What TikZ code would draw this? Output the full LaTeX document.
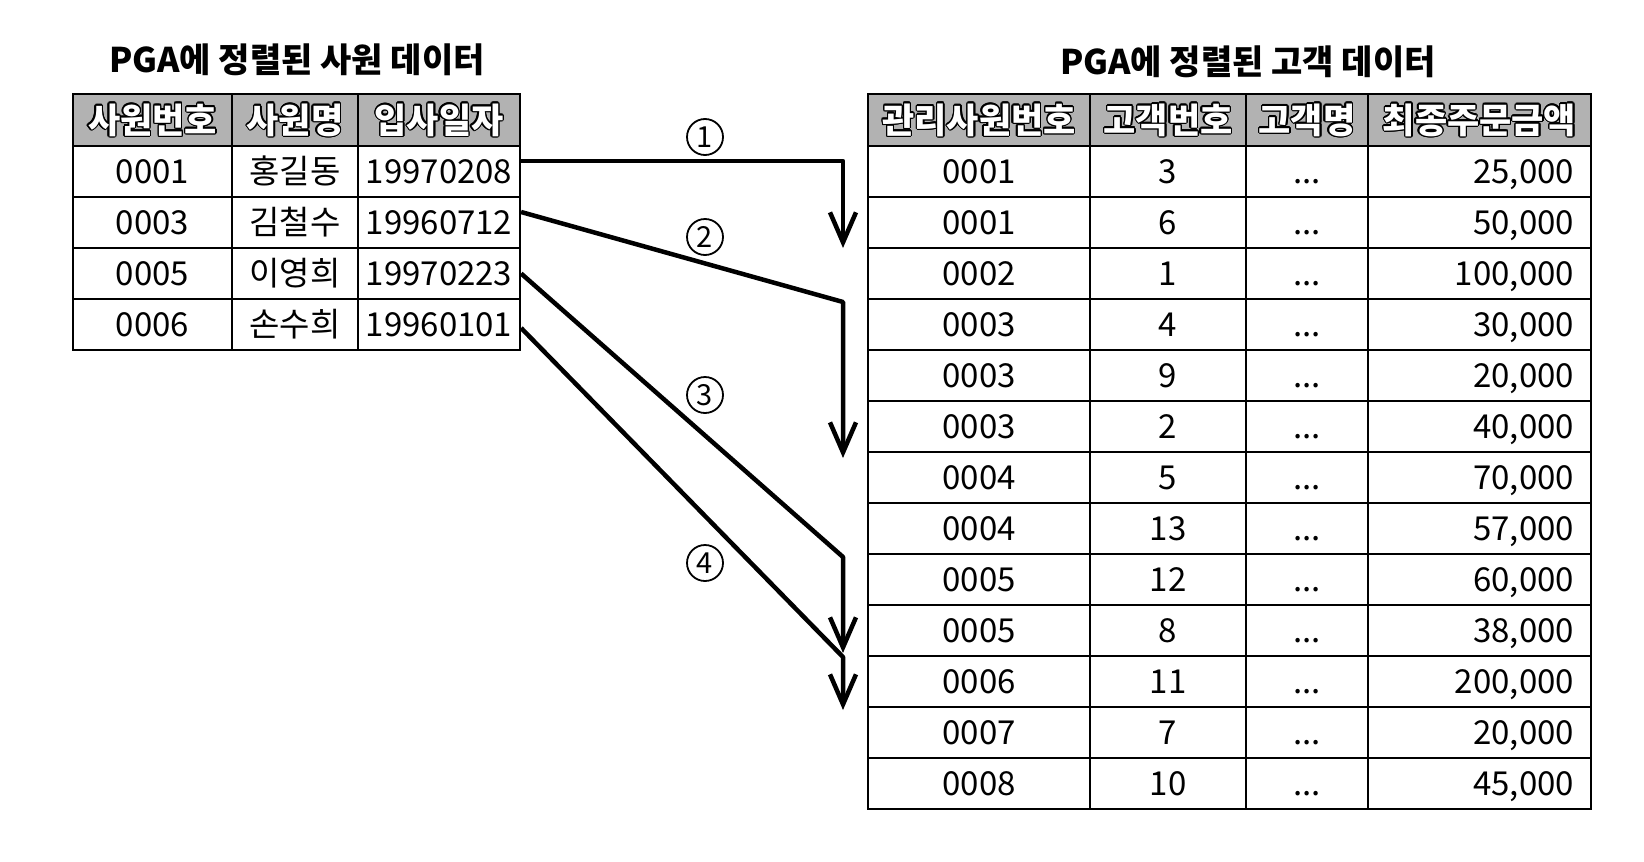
\documentclass[tikz,border=0pt]{standalone}
\usepackage{fontspec}
\setmainfont{Noto Sans CJK KR}
\usepackage[copies]{contour}
\contourlength{1.4pt}
\usetikzlibrary{arrows.meta}
\newcommand{\hdtext}[1]{\contour{black}{#1}}
\begin{document}
\begin{tikzpicture} [
   x=1pt, y=-1pt,
   cell/.style={draw, line width=2.2pt, minimum width=#1, minimum height=51pt,
                inner sep=0pt, text height=24.2pt, text depth=0pt,
                font=\fontsize{33}{33}\selectfont},
   head/.style={cell=#1, minimum height=52pt, fill=gray!60, text=white,
                text height=26pt, font=\fontsize{35}{35}\selectfont\bfseries},
   title/.style={font=\fontsize{34}{34}\selectfont\bfseries},
   num/.style={circle, draw, line width=1.8pt, minimum size=36pt, inner sep=0pt,
               font=\fontsize{29}{29}\selectfont},
   arr/.style={line width=4.5pt, line join=round,
               -{Straight Barb[length=30pt,width=26pt]}}
]
   \useasboundingbox (0,0) rectangle (1644,862);

   % titles
   \node (ltitle) [title] at (297,60) {PGA에 정렬된 사원 데이터};
   \node (rtitle) [title] at (1248,62) {PGA에 정렬된 고객 데이터};

   % employee table
   \foreach \w/\x/\t [count=\c] in {159/152.5/사원번호, 126/295/사원명, 162/439/입사일자}
      \node (LH-\c) [head=\w pt] at (\x,120) {\hdtext{\t}};
   \foreach \id/\nm/\dt [count=\r] in {0001/홍길동/19970208, 0003/김철수/19960712,
                                      0005/이영희/19970223, 0006/손수희/19960101} {
      \node (L-\r-1) [cell=159pt] at (152.5,120.5+51*\r) {\id};
      \node (L-\r-2) [cell=126pt] at (295,120.5+51*\r) {\nm};
      \node (L-\r-3) [cell=162pt] at (439,120.5+51*\r) {\dt};
   }

   % customer table
   \foreach \w/\x/\t [count=\c] in {222/979/관리사원번호, 156/1168/고객번호,
                                    122/1307/고객명, 223/1479.5/최종주문금액}
      \node (RH-\c) [head=\w pt] at (\x,120) {\hdtext{\t}};
   \foreach \id/\no/\amt [count=\r] in {0001/3/{25,000}, 0001/6/{50,000}, 0002/1/{100,000},
                                       0003/4/{30,000}, 0003/9/{20,000}, 0003/2/{40,000},
                                       0004/5/{70,000}, 0004/13/{57,000}, 0005/12/{60,000},
                                       0005/8/{38,000}, 0006/11/{200,000}, 0007/7/{20,000},
                                       0008/10/{45,000}} {
      \node (R-\r-1) [cell=222pt] at (979,120.5+51*\r) {\id};
      \node (R-\r-2) [cell=156pt] at (1168,120.5+51*\r) {\no};
      \node (R-\r-3) [cell=122pt] at (1307,120.5+51*\r) {...};
      \node (R-\r-4) [cell=223pt, text width=189pt, align=right] at (1479.5,120.5+51*\r) {\amt};
   }

   % join order
   \coordinate (k1) at (843,248);
   \coordinate (b2) at (843,302);
   \coordinate (k2) at (843,458);
   \coordinate (b3) at (843,557);
   \coordinate (k3) at (843,653);
   \coordinate (b4) at (843,657);
   \coordinate (k4) at (843,710);
   \draw [arr] ([yshift=10.5pt]L-1-3.east) -| (k1);
   \draw [arr] ([yshift=10.5pt]L-2-3.east) -- (b2) -- (k2);
   \draw [arr] (L-3-3.east) -- (b3) -- (k3);
   \draw [arr] ([yshift=-3.5pt]L-4-3.east) -- (b4) -- (k4);

   \node (n1) [num] at (705,137) {1};
   \node (n2) [num] at (705,237) {2};
   \node (n3) [num] at (705,395) {3};
   \node (n4) [num] at (705,563) {4};
\end{tikzpicture}
\end{document}
